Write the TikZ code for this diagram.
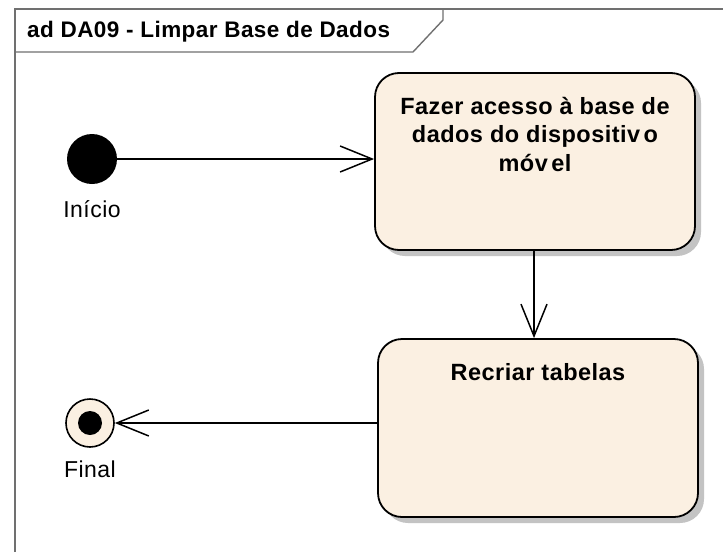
\documentclass[tikz,border=0pt]{standalone}
\usepackage{fontspec}
\setmainfont[LetterSpace=2]{Liberation Sans}
\usetikzlibrary{arrows.meta,shadows}
\definecolor{actfill}{HTML}{FBF0E2}
\definecolor{framec}{HTML}{707070}
\definecolor{shadowc}{HTML}{C3C3C3}
\tikzset{
  action/.style={draw=black, line width=1.8pt, fill=actfill, rounded corners=24pt,
    minimum width=320pt, inner sep=0pt,
    drop shadow={shadow xshift=6pt, shadow yshift=-6pt, fill=shadowc, opacity=1}},
  acttext/.style={inner sep=0pt, align=center, font=\fontsize{23.5}{28.5}\selectfont\bfseries},
  flow/.style={line width=1.5pt, -{Straight Barb[length=32pt,width=26pt,line width=1.5pt]}},
  lbl/.style={inner sep=0pt, font=\fontsize{23}{26}\selectfont},
  framel/.style={draw=framec, line width=1.4pt}
}
\begin{document}
\begin{tikzpicture}[x=1pt,y=-1pt]
\useasboundingbox (0,0) rectangle (723,552);
\fill[white] (0,0) rectangle (723,552);
% frame
\draw[framel] (15,552) -- (15,9) -- (723,9);
\draw[framel] (15,9) -- (443,9) -- (443,20) -- (413,52) -- (15,52);
\node[anchor=base west, inner sep=0pt, font=\fontsize{22.5}{24}\selectfont\bfseries] (title) at (27,37) {ad DA09 - Limpar Base de Dados};
% actions
\node[action, minimum height=177pt] (a1) at (535,161.5) {};
\node[acttext, anchor=north] (t1) at (535,97) {Fazer acesso à base de\\dados do dispositiv\hspace{0.15em}o\\móv\hspace{0.15em}el};
\node[action, minimum height=178pt] (a2) at (538,428) {};
\node[acttext, anchor=base] (t2) at (538,380) {Recriar tabelas};
% initial
\node[circle, fill=black, minimum size=50pt, inner sep=0pt] (ini) at (92,159) {};
\node[lbl, anchor=base] (inil) at (92,217) {Início};
% final
\node[circle, draw=black, line width=1.6pt, fill=actfill, minimum size=48pt, inner sep=0pt] (fin) at (90,423) {};
\node[circle, fill=black, minimum size=24pt, inner sep=0pt] (find) at (fin.center) {};
\node[lbl, anchor=base] (finl) at (90,477) {Final};
% flows
\coordinate (vx) at (534,0);
\draw[flow] (ini.east) -- (a1.west |- ini.east);
\draw[flow] (a1.south -| vx) -- (a2.north -| vx);
\draw[flow] (a2.west |- fin.east) -- (fin.east);
\end{tikzpicture}
\end{document}
